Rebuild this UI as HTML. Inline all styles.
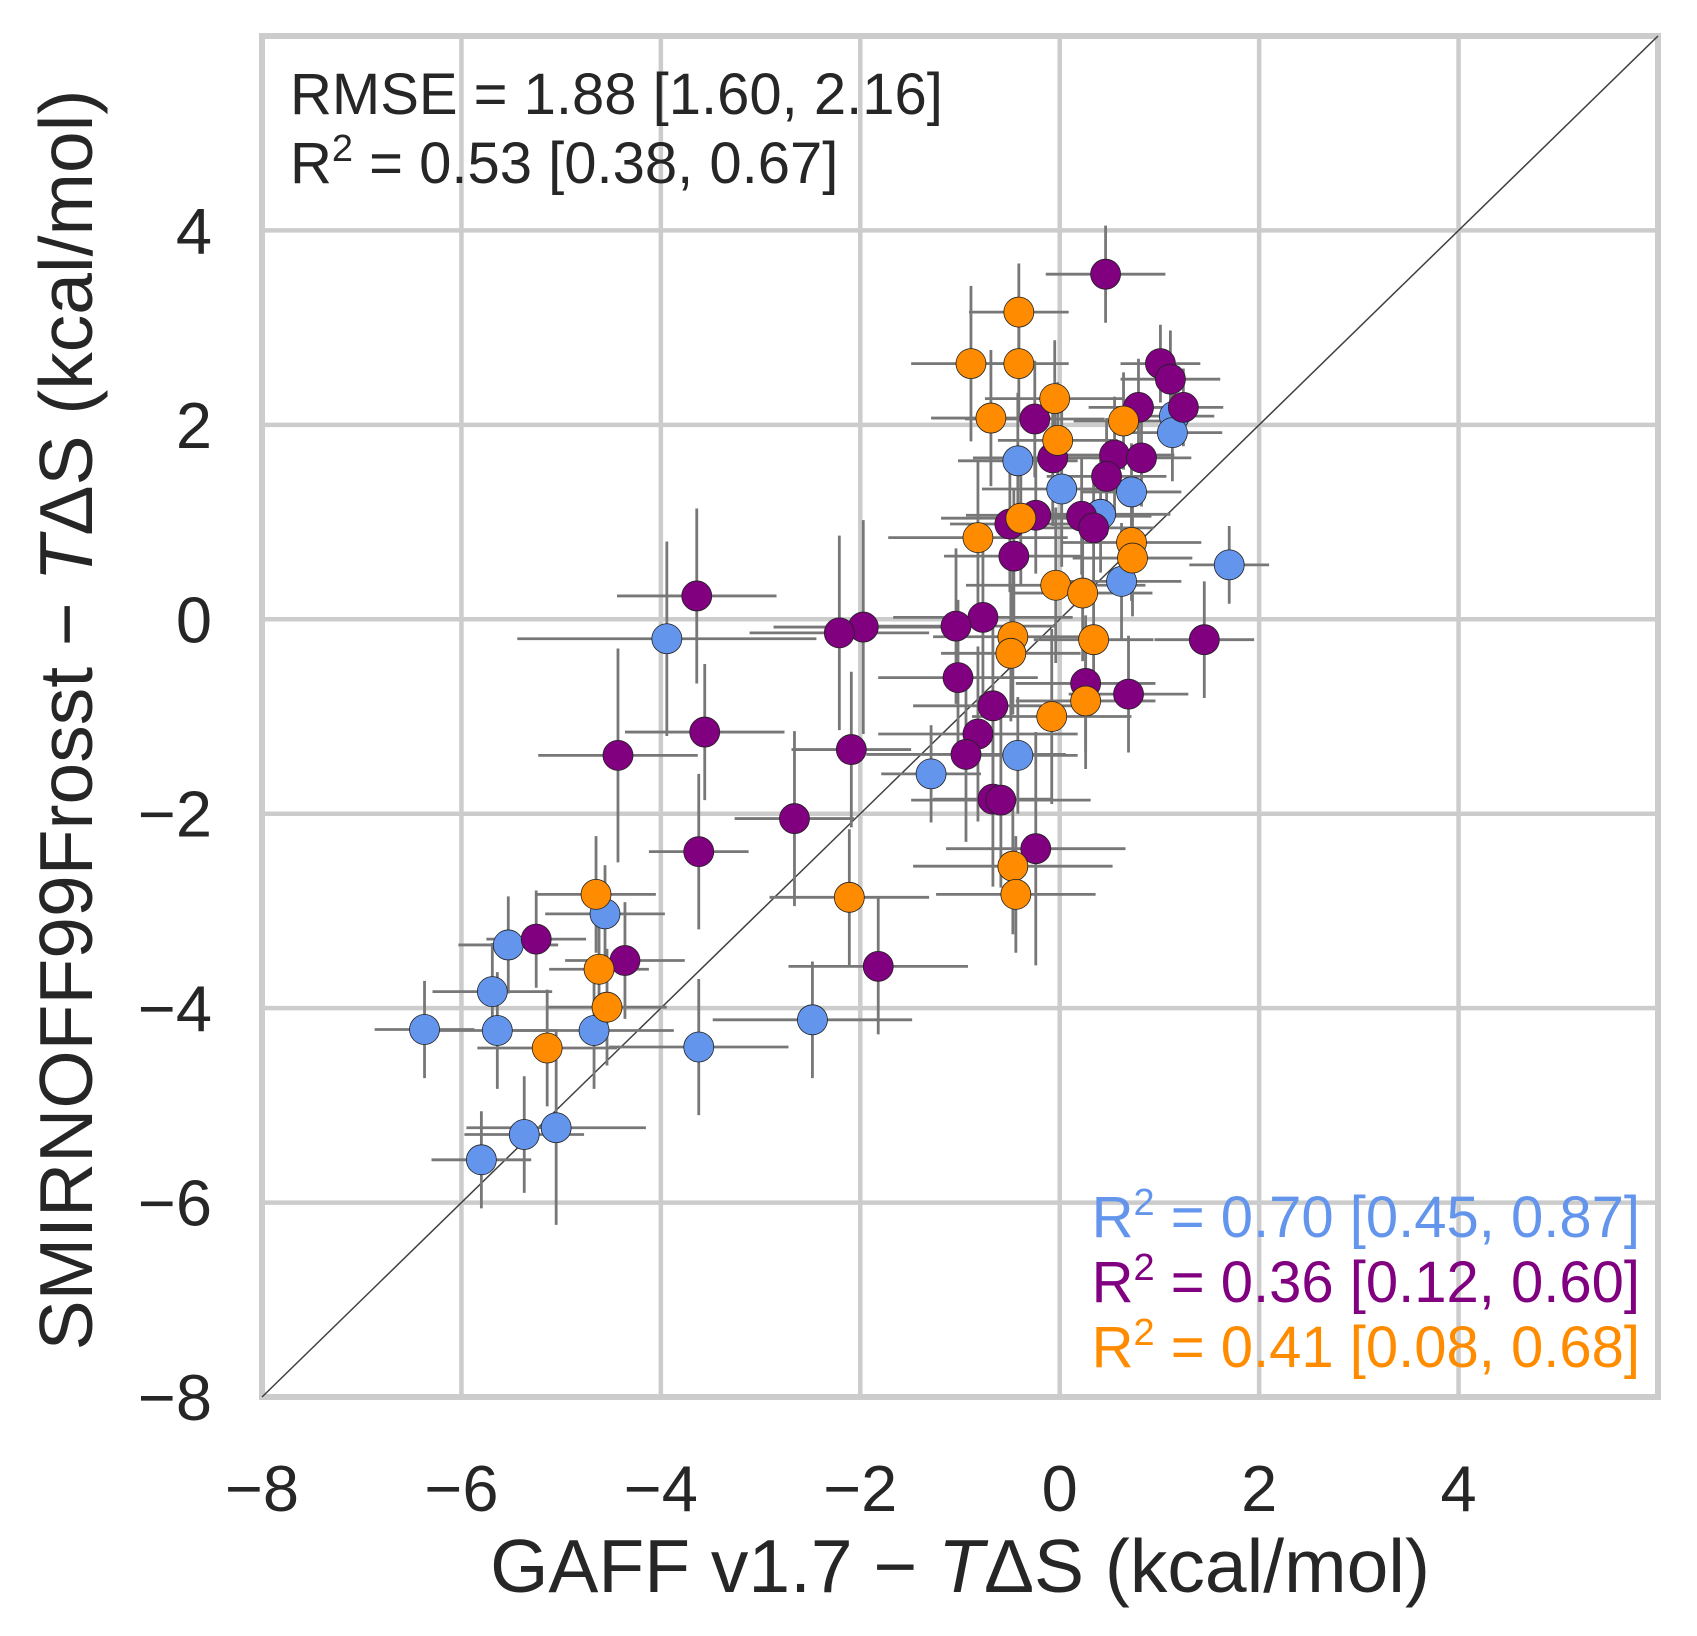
<!DOCTYPE html>
<html><head><meta charset="utf-8"><style>
html,body{margin:0;padding:0;background:#fff;}
svg{display:block;font-family:"Liberation Sans",sans-serif;}
</style></head><body>
<svg id="chart" width="1697" height="1636" viewBox="0 0 1697 1636" xmlns="http://www.w3.org/2000/svg">
<g id="grid"></g>
<g id="marks"></g>
<g id="ticks"></g>
<text x="290" y="114" font-size="58" fill="#262626">RMSE = 1.88 [1.60, 2.16]</text>
<text x="290" y="183" font-size="58" fill="#262626">R<tspan dy="-22" font-size="38">2</tspan><tspan dy="22"> = 0.53 [0.38, 0.67]</tspan></text>
<text x="1640" y="1237" font-size="58" fill="#6495ed" text-anchor="end">R<tspan dy="-22" font-size="38">2</tspan><tspan dy="22"> = 0.70 [0.45, 0.87]</tspan></text>
<text x="1640" y="1302" font-size="58" fill="#800080" text-anchor="end">R<tspan dy="-22" font-size="38">2</tspan><tspan dy="22"> = 0.36 [0.12, 0.60]</tspan></text>
<text x="1640" y="1367" font-size="58" fill="#ff8c00" text-anchor="end">R<tspan dy="-22" font-size="38">2</tspan><tspan dy="22"> = 0.41 [0.08, 0.68]</tspan></text>
<text x="960" y="1592" font-size="75" fill="#262626" text-anchor="middle">GAFF v1.7 − <tspan font-style="italic">T</tspan>ΔS (kcal/mol)</text>
<text transform="translate(92,720) rotate(-90)" font-size="75" fill="#262626" text-anchor="middle">SMIRNOFF99Frosst − <tspan font-style="italic">T</tspan>ΔS (kcal/mol)</text>
</svg>
<script>
const ticks = [-8,-6,-4,-2,0,2,4];
const tickLabels = ["−8","−6","−4","−2","0","2","4"];
const blueX = [-3.94,1.70,1.15,1.13,-0.42,0.02,0.41,0.72,0.62,-0.42,-1.29,-4.56,-5.53,-5.69,-6.37,-5.64,-4.67,-3.62,-2.48,-5.05,-5.37,-5.80];
const blueY = [-0.20,0.56,2.09,1.92,1.63,1.34,1.08,1.31,0.39,-1.40,-1.59,-3.03,-3.35,-3.83,-4.22,-4.23,-4.23,-4.40,-4.12,-5.23,-5.30,-5.56];
const blueXerr = [1.5,0.4,0.4,0.5,0.6,0.8,0.7,0.5,0.6,0.6,0.5,0.6,0.5,0.6,0.5,0.6,0.8,0.9,1.0,0.9,0.6,0.5];
const blueYerr = [1.0,0.4,0.3,0.5,0.7,0.8,0.6,0.5,0.6,0.6,0.5,0.5,0.5,0.5,0.5,0.6,0.6,0.7,0.6,1.0,0.6,0.5];
const purpleX = [0.46,1.01,1.11,1.24,0.79,-0.25,0.55,0.82,-0.07,0.47,-0.24,0.22,0.34,-0.50,-0.46,-3.64,-0.77,-1.04,-1.97,-2.21,1.45,-1.02,0.26,0.69,-0.67,-0.82,-0.94,-4.43,-2.09,-3.56,-0.67,-0.59,-2.66,-3.62,-0.24,-5.25,-4.36,-1.82];
const purpleY = [3.55,2.63,2.47,2.18,2.18,2.06,1.69,1.66,1.66,1.47,1.07,1.06,0.94,0.98,0.65,0.24,0.02,-0.07,-0.08,-0.14,-0.21,-0.60,-0.66,-0.77,-0.89,-1.18,-1.39,-1.40,-1.34,-1.16,-1.85,-1.86,-2.05,-2.39,-2.36,-3.29,-3.51,-3.57];
const purpleXerr = [0.6,0.4,0.5,0.4,0.5,0.7,0.6,0.5,0.8,0.6,0.7,0.7,0.6,0.6,0.7,0.8,0.9,1.0,0.9,0.9,0.5,0.8,0.7,0.6,0.8,1.0,1.0,0.8,0.6,0.8,0.6,0.9,0.6,0.5,0.9,0.5,0.6,0.9];
const purpleYerr = [0.5,0.4,0.5,0.4,0.5,0.6,0.6,0.5,0.7,0.6,0.6,0.6,0.6,0.7,0.7,0.9,0.8,0.8,1.1,1.0,0.6,0.8,0.7,0.6,0.8,0.9,0.9,1.1,0.8,0.7,0.9,0.9,0.9,0.8,1.2,0.5,0.6,0.7];
const orangeX = [-0.41,-0.89,-0.41,-0.05,-0.69,0.64,-0.02,-0.39,-0.82,0.72,0.73,-0.04,0.23,0.34,-0.47,-0.49,0.26,-0.08,-0.47,-0.44,-2.11,-4.65,-4.62,-4.54,-5.14];
const orangeY = [3.16,2.63,2.63,2.27,2.07,2.04,1.84,1.04,0.84,0.79,0.63,0.35,0.27,-0.21,-0.18,-0.35,-0.84,-1.00,-2.54,-2.83,-2.86,-2.83,-3.60,-3.99,-4.41];
const orangeXerr = [0.5,0.6,0.5,0.7,0.6,0.5,0.6,0.8,0.9,0.7,0.6,0.9,0.7,0.6,0.8,0.7,0.7,0.8,1.0,0.8,0.8,0.6,0.5,0.6,0.7];
const orangeYerr = [0.5,0.8,0.6,0.6,0.7,0.5,0.6,0.7,0.8,0.6,0.6,0.8,0.7,0.6,0.8,0.7,0.7,0.9,0.7,0.6,0.7,0.6,0.5,0.6,0.6];

const X0=262, X1=1658, Y0=1397, Y1=36;
function sx(v){return X0+(v+8)*(X1-X0)/14;}
function sy(v){return Y0-(v+8)*(Y0-Y1)/14;}
const NS="http://www.w3.org/2000/svg";
function mk(tag,attrs,parent){const e=document.createElementNS(NS,tag);for(const k in attrs)e.setAttribute(k,attrs[k]);parent.appendChild(e);return e;}
const grid=document.getElementById('grid'), marks=document.getElementById('marks'), tk=document.getElementById('ticks');
ticks.forEach((t,i)=>{
  const gx=mk('line',{x1:sx(t),x2:sx(t),y1:Y1,y2:Y0,stroke:'#cccccc','stroke-width':4.5},grid);
  
  
  const gy=mk('line',{x1:X0,x2:X1,y1:sy(t),y2:sy(t),stroke:'#cccccc','stroke-width':4.5},grid);
  
  
  const lx=mk('text',{x:sx(t),y:1511,'font-size':65,fill:'#262626','text-anchor':'middle'},tk);
  lx.textContent=tickLabels[i];
  
  
  const ly=mk('text',{x:212,y:sy(t)+23,'font-size':65,fill:'#262626','text-anchor':'end'},tk);
  ly.textContent=tickLabels[i];
  
  
});
const frame=mk('rect',{x:X0,y:Y1,width:X1-X0,height:Y0-Y1,fill:'none',stroke:'#cccccc','stroke-width':6},grid);


const diag=mk('line',{x1:sx(-8),y1:sy(-8),x2:sx(6),y2:sy(6),stroke:'#404040','stroke-width':1.5},grid);


const series=[
  {name:'blue',x:blueX,y:blueY,xe:blueXerr,ye:blueYerr,c:'#6495ed'},
  {name:'purple',x:purpleX,y:purpleY,xe:purpleXerr,ye:purpleYerr,c:'#800080'},
  {name:'orange',x:orangeX,y:orangeY,xe:orangeXerr,ye:orangeYerr,c:'#ff8c00'}];
series.forEach(s=>{
  s.x.forEach((v,i)=>{
    const h=mk('line',{x1:sx(v-s.xe[i]),x2:sx(v+s.xe[i]),y1:sy(s.y[i]),y2:sy(s.y[i]),stroke:'#777','stroke-width':2.8},marks);
    
    
    const vv=mk('line',{x1:sx(v),x2:sx(v),y1:sy(s.y[i]-s.ye[i]),y2:sy(s.y[i]+s.ye[i]),stroke:'#777','stroke-width':2.8},marks);
    
    
  });
});
series.forEach(s=>{
  s.x.forEach((v,i)=>{
    const c=mk('circle',{cx:sx(v),cy:sy(s.y[i]),r:15,fill:s.c,stroke:'#222','stroke-width':0.8},marks);
    
    
  });
});
</script>
</body></html>
